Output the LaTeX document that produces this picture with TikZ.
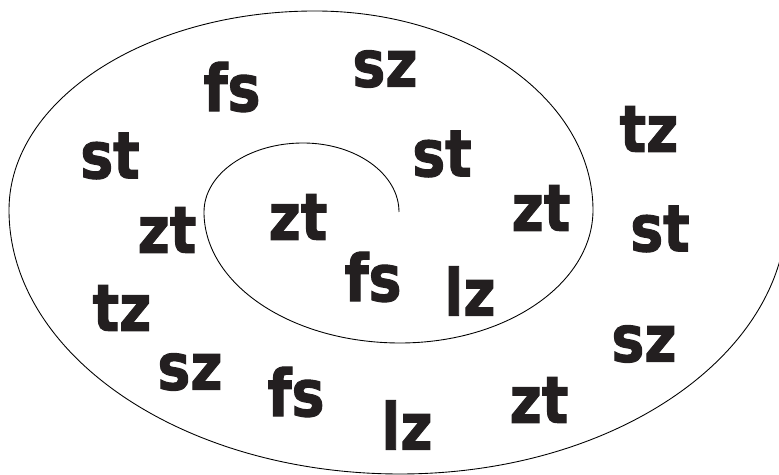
\documentclass[tikz,border=0pt]{standalone}
\usepackage{fontspec}
\newfontfamily\wordfont{DejaVu Sans}[FakeStretch=0.85,BoldFeatures={FakeBold=1.5}]
\definecolor{myblack}{RGB}{35,31,32}

\begin{document}
\begin{tikzpicture}[x=0.02cm,y=-0.02cm,
    word/.style={inner sep=0pt,text=myblack,font=\wordfont\bfseries\fontsize{37}{40}\selectfont}]

    \useasboundingbox (0,0) rectangle (779,475);
    \clip (0,0) rectangle (779,475);
    \coordinate (eye) at (399,212);% inner end of the spiral

    \draw[line width=0.5pt] (eye)
        arc[start angle=0,end angle=-90,x radius=96,y radius=69]
        arc[start angle=-90,end angle=-180,x radius=99,y radius=69]
        arc[start angle=180,end angle=90,x radius=196,y radius=131]
        arc[start angle=90,end angle=0,x radius=193,y radius=133]
        arc[start angle=0,end angle=-90,x radius=278,y radius=199]
        arc[start angle=-90,end angle=-180,x radius=306,y radius=199]
        arc[start angle=180,end angle=90,x radius=391,y radius=264]
        arc[start angle=90,end angle=0,x radius=387,y radius=264];% runs off the right edge

    \foreach \x/\y/\w [count=\i] in {232/87/fs,385/69/sz,110/156/st,442/154/st,
        649/129/tz,167/230/zt,298/217/zt,541/208/zt,660/229/st,373/277/fs,
        470/291/lz,122/308/tz,190/372/sz,296/392/fs,407/425/lz,539/400/zt,
        644/344/sz}{% one word per node
      \node[word] (w\i) at (\x,\y) {\w};
    }

\end{tikzpicture}
\end{document}
